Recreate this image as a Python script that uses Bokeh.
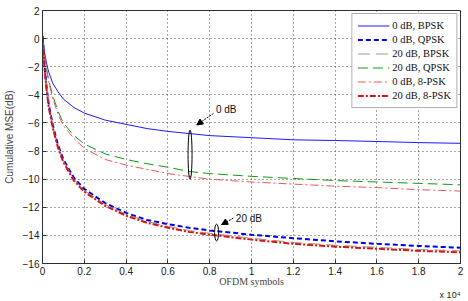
from bokeh.plotting import figure
from bokeh.models import Range1d, Legend, LegendItem, Arrow, NormalHead, Label, FixedTicker, Title
from bokeh.embed import file_html
from bokeh.resources import INLINE

# OFDM symbols (x 10^4)
x = [0, 0.01, 0.02, 0.03, 0.05, 0.075, 0.1, 0.15, 0.2, 0.3, 0.4, 0.5, 0.6, 0.7, 0.8, 1.0, 1.2, 1.4, 1.6, 1.8, 2.0]

bpsk_0db = [0.3, -1.0, -1.8, -2.4, -3.2, -3.8, -4.3, -4.9, -5.3, -5.8, -6.1, -6.4, -6.6, -6.75, -6.9, -7.05, -7.2, -7.25, -7.32, -7.4, -7.45]
qpsk_0db = [0.2, -2.0, -3.5, -4.7, -6.2, -7.6, -8.6, -9.9, -10.7, -11.7, -12.4, -12.9, -13.2, -13.45, -13.65, -13.95, -14.2, -14.42, -14.6, -14.75, -14.88]
bpsk_20db = [0.1, -2.1, -3.6, -4.8, -6.3, -7.7, -8.7, -10.0, -10.8, -11.8, -12.5, -13.0, -13.35, -13.65, -13.85, -14.2, -14.5, -14.7, -14.85, -15.0, -15.1]
qpsk_20db = [0.0, -1.2, -2.2, -3.0, -4.1, -5.2, -6.0, -6.9, -7.5, -8.2, -8.6, -8.9, -9.15, -9.45, -9.6, -9.8, -9.95, -10.1, -10.2, -10.3, -10.4]
psk8_0db = [0.0, -1.3, -2.3, -3.1, -4.3, -5.4, -6.2, -7.1, -7.8, -8.6, -9.0, -9.3, -9.6, -9.8, -10.0, -10.2, -10.35, -10.5, -10.6, -10.75, -10.85]
psk8_20db = [0.1, -2.2, -3.7, -4.9, -6.4, -7.8, -8.8, -10.1, -10.9, -11.9, -12.6, -13.1, -13.45, -13.75, -13.95, -14.3, -14.6, -14.8, -14.95, -15.1, -15.2]

labels = ["0 dB, BPSK", "0 dB, QPSK", "20 dB, BPSK", "20 dB, QPSK", "0 dB, 8-PSK", "20 dB, 8-PSK"]
x_ticks = [0, 0.2, 0.4, 0.6, 0.8, 1.0, 1.2, 1.4, 1.6, 1.8, 2.0]
x_tick_labels = ["0", "0.2", "0.4", "0.6", "0.8", "1", "1.2", "1.4", "1.6", "1.8", "2"]
y_ticks = [2, 0, -2, -4, -6, -8, -10, -12, -14, -16]

SERIF = "Liberation Serif"
SANS = "Liberation Sans"

p = figure(width=468, height=301, output_backend="svg", toolbar_location=None,
           x_range=Range1d(0, 2), y_range=Range1d(-16, 2),
           min_border_left=0, min_border_right=8, min_border_top=10, min_border_bottom=33)
p.background_fill_color = "white"
p.border_fill_color = "white"
p.outline_line_color = "#303030"
p.outline_line_width = 1

p.xaxis.ticker = FixedTicker(ticks=x_ticks)
p.xaxis.major_label_overrides = {t: l for t, l in zip(x_ticks, x_tick_labels)}
p.yaxis.ticker = FixedTicker(ticks=y_ticks)
for ax in (p.xaxis, p.yaxis):
    ax.major_tick_in = 4
    ax.major_tick_out = 0
    ax.minor_tick_in = 0
    ax.minor_tick_out = 0
    ax.axis_line_color = "#303030"
    ax.major_tick_line_color = "#303030"
    ax.major_label_text_font = SANS
    ax.major_label_text_font_size = "10px"
    ax.major_label_text_color = "#202020"
p.xaxis.major_label_standoff = 3
p.yaxis.major_label_standoff = 3
p.xaxis.axis_label = "OFDM symbols"
p.xaxis.axis_label_text_font = SERIF
p.xaxis.axis_label_text_font_style = "normal"
p.xaxis.axis_label_text_font_size = "10px"
p.xaxis.axis_label_standoff = -2
p.yaxis.axis_label = "Cumulative MSE(dB)"
p.yaxis.axis_label_text_font = SANS
p.yaxis.axis_label_text_font_style = "normal"
p.yaxis.axis_label_text_font_size = "10px"
p.yaxis.axis_label_standoff = 5

p.grid.grid_line_color = "#202020"
p.grid.grid_line_dash = "1 3"
p.grid.grid_line_alpha = 0.8
p.xgrid.ticker = FixedTicker(ticks=x_ticks)
p.ygrid.ticker = FixedTicker(ticks=y_ticks)

r1 = p.line(x, bpsk_0db, line_color="#1a1aff", line_width=1)
r2 = p.line(x, qpsk_0db, line_color="#0000ee", line_width=2, line_dash="5 3")
r3 = p.line(x, bpsk_20db, line_color="#9a9a7a", line_width=1, line_dash="12 6")
r4 = p.line(x, qpsk_20db, line_color="#119911", line_width=1, line_dash="10 5")
r5 = p.line(x, psk8_0db, line_color="#ee5555", line_width=1, line_dash="8 3 2 3")
r6 = p.line(x, psk8_20db, line_color="#dd1111", line_width=2, line_dash="6 2 2 2")

legend = Legend(items=[LegendItem(label=l, renderers=[r]) for l, r in zip(labels, [r1, r2, r3, r4, r5, r6])],
                location="top_right")
legend.label_text_font = SERIF
legend.label_text_font_size = "10.5px"
legend.label_text_color = "#101010"
legend.glyph_width = 32
legend.glyph_height = 13
legend.label_height = 13
legend.spacing = 1
legend.padding = 5
legend.margin = 3
legend.label_standoff = 3
legend.border_line_color = "#606060"
legend.border_line_width = 1
legend.background_fill_alpha = 1
p.add_layout(legend)

# annotations
ann_0db = dict(ex=0.706, ey=-8.25, eh=3.5, ax0=0.818, ay0=-5.33, ax1=0.738, ay1=-6.14, tx=0.83, ty=-5.03)
ann_20db = dict(ex=0.833, ey=-13.8, eh=1.2, ax0=0.913, ay0=-12.77, ax1=0.857, ay1=-13.23, tx=0.925, ty=-12.77)
for a, txt in ((ann_0db, "0 dB"), (ann_20db, "20 dB")):
    p.ellipse(x=[a["ex"]], y=[a["ey"]], width=4, height=a["eh"], width_units="screen",
              fill_color=None, line_color="black", line_width=1)
    p.add_layout(Arrow(end=NormalHead(size=6, fill_color="black", line_color="black"),
                       x_start=a["ax0"], y_start=a["ay0"], x_end=a["ax1"], y_end=a["ay1"],
                       line_color="black", line_width=1, line_dash="2 1"))
    p.add_layout(Label(x=a["tx"], y=a["ty"], text=txt, text_font=SANS, text_font_size="10px",
                       text_baseline="middle", text_color="#101010"))

# "x 10^4" multiplier below the axis, right aligned
mult = Title(text="x 10\u2074", align="right", vertical_align="top", text_font=SANS, text_font_size="9px",
             text_font_style="normal", text_color="#202020", standoff=0, offset=0)
p.add_layout(mult, "below")

open("out.html", "w").write(file_html(p, INLINE))
